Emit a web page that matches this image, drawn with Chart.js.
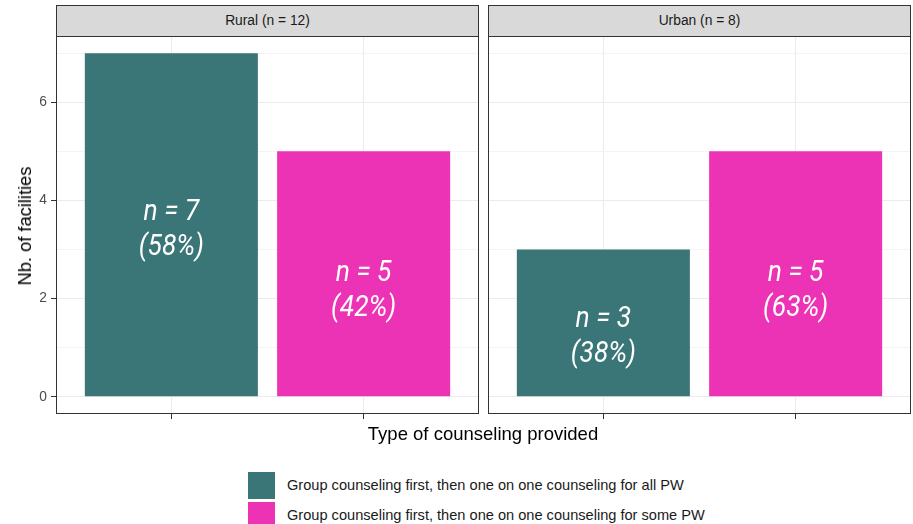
<!DOCTYPE html>
<html>
<head>
<meta charset="utf-8">
<script src="https://cdn.jsdelivr.net/npm/chart.js@4/dist/chart.umd.min.js"></script>
<style>
  body { margin: 0; background: #fff; width: 913px; height: 524px; position: relative; overflow: hidden; font-family: "Liberation Sans", Arial, sans-serif; }
  canvas { position: absolute; }
  .strip { position: absolute; top: 5px; height: 32px; box-sizing: border-box; background: #d9d9d9; border: 1px solid #333; font-size: 13.8px; color: #1a1a1a; text-align: center; line-height: 30px; }
  #ytitle { position: absolute; left: 25px; top: 226px; transform: translate(-50%, -50%) rotate(-90deg); font-size: 18.3px; white-space: nowrap; color: #000; }
  #xtitle { position: absolute; left: 483px; top: 434px; transform: translate(-50%, -50%); font-size: 18.5px; white-space: nowrap; color: #000; }
  #legend { position: absolute; left: 248px; top: 470px; }
  .item { height: 30px; display: flex; align-items: center; }
  .sw { width: 27px; height: 27px; margin-right: 12px; }
  .item span { font-size: 14.6px; color: #1a1a1a; }
</style>
</head>
<body>
<div class="strip" id="s0" style="left:56px; width:423px;"></div>
<div class="strip" id="s1" style="left:488px; width:423px;"></div>
<canvas id="left"></canvas>
<canvas id="right"></canvas>
<div id="ytitle">Nb. of facilities</div>
<div id="xtitle">Type of counseling provided</div>
<div id="legend"></div>
<script>
const facets = ['Rural (n = 12)', 'Urban (n = 8)']
const types = ['Group counseling first, then one on one counseling for all PW',
               'Group counseling first, then one on one counseling for some PW']
const colors = ['#3a7577', '#ec33b5']
const ruralCounts = [7, 5]
const urbanCounts = [3, 5]
const ruralPct = ['58%', '42%']
const urbanPct = ['38%', '63%']
// where the two-line labels sit (y units)
const ruralLabelY = [3.39, 2.15]
const urbanLabelY = [1.22, 2.15]
const yTicks = [0, 1, 2, 3, 4, 5, 6, 7]

document.getElementById('s0').textContent = facets[0]
document.getElementById('s1').textContent = facets[1]

const legend = document.getElementById('legend')
types.forEach((t, i) => {
  const d = document.createElement('div')
  d.className = 'item'
  d.innerHTML = `<div class="sw" style="background:${colors[i]}"></div><span>${t}</span>`
  legend.append(d)
})

const barLabels = {
  id: 'barLabels',
  afterDatasetsDraw(chart, args, opts) {
    const ctx = chart.ctx
    const xs = chart.scales.x, ys = chart.scales.y
    ctx.save()
    ctx.fillStyle = '#fff'
    ctx.textAlign = 'center'
    ctx.textBaseline = 'middle'
    ctx.font = 'italic 30px "Roboto", sans-serif'
    opts.counts.forEach((n, i) => {
      const x = xs.getPixelForValue(i + 1)
      const y = ys.getPixelForValue(opts.pos[i])
      // squeeze a bit, the original font is a condensed one
      ctx.save()
      ctx.translate(x, y)
      ctx.scale(0.88, 1)
      ctx.fillText(`n = ${n}`, 0, -17.5)
      ctx.fillText(`(${opts.pct[i]})`, 0, 17.5)
      ctx.restore()
    })
    ctx.restore()
  }
}

const panelBorder = {
  id: 'panelBorder',
  afterDraw(chart) {
    const a = chart.chartArea, ctx = chart.ctx
    ctx.save()
    ctx.strokeStyle = '#333'
    ctx.lineWidth = 1
    ctx.strokeRect(Math.round(a.left) + 0.5, Math.round(a.top) + 0.5, Math.round(a.right - a.left) - 1, Math.round(a.bottom - a.top) - 1)
    ctx.restore()
  }
}

function makePanel(id, left, width, counts, pct, pos, showY) {
  const canvas = document.getElementById(id)
  canvas.style.left = left + 'px'
  canvas.style.top = '36px'
  canvas.width = width
  canvas.height = 400
  canvas.style.width = width + 'px'
  canvas.style.height = '400px'
  return new Chart(canvas, {
    type: 'bar',
    data: {
      datasets: [{
        data: counts.map((v, i) => ({ x: i + 1, y: v })),
        backgroundColor: colors,
        borderWidth: 0,
        barPercentage: 0.9,
        categoryPercentage: 1
      }]
    },
    options: {
      responsive: false,
      animation: false,
      devicePixelRatio: 1,
      layout: { padding: { left: 0, right: 1, top: 0, bottom: 0 } },
      plugins: { legend: { display: false }, tooltip: { enabled: false }, barLabels: { counts, pct, pos } },
      scales: {
        x: {
          type: 'linear',
          min: 0.4,
          max: 2.6,
          offset: false,
          afterBuildTicks: s => { s.ticks = [{ value: 1 }, { value: 2 }] },
          afterFit: s => { s.height = 22 },
          ticks: { display: false },
          border: { display: false },
          grid: { offset: false, color: '#ebebeb', lineWidth: 1, tickLength: 5, tickColor: '#333' }
        },
        y: {
          min: -0.35,
          max: 7.35,
          afterBuildTicks: s => { s.ticks = yTicks.map(v => ({ value: v })) },
          afterFit: s => { s.width = showY ? 56 : 0; s.paddingTop = 0; s.paddingBottom = 0 },
          border: { display: false },
          ticks: {
            display: showY,
            padding: 4,
            color: '#4d4d4d',
            font: { family: 'Liberation Sans', size: 13.8 },
            callback: v => (v % 2 === 0 ? v : '')
          },
          grid: {
            color: c => (c.tick && c.tick.value % 2 === 0 ? '#ebebeb' : '#f4f4f4'),
            lineWidth: 1,
            tickLength: showY ? 5 : 0,
            tickColor: c => (c.tick && c.tick.value % 2 === 0 ? '#333' : 'rgba(0,0,0,0)')
          }
        }
      }
    },
    plugins: [barLabels, panelBorder]
  })
}

makePanel('left', 0, 480, ruralCounts, ruralPct, ruralLabelY, true)
makePanel('right', 488, 424, urbanCounts, urbanPct, urbanLabelY, false)
</script>
</body>
</html>
